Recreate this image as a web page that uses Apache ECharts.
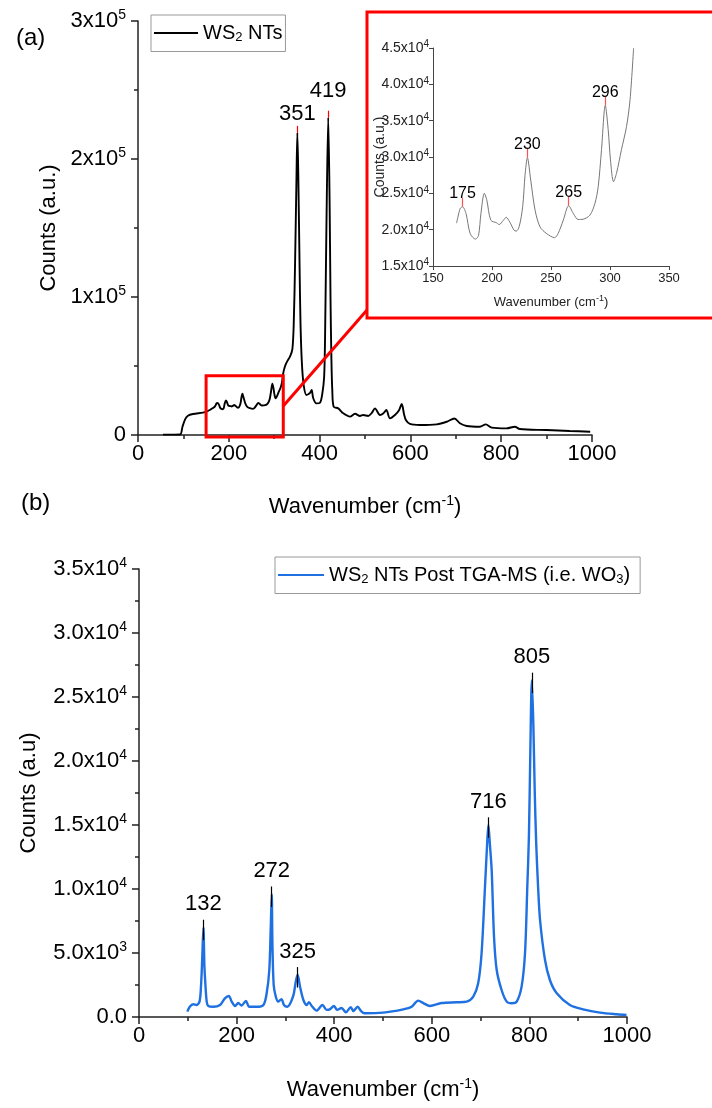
<!DOCTYPE html>
<html><head><meta charset="utf-8">
<script src="https://cdn.jsdelivr.net/npm/echarts/dist/echarts.min.js"></script>
<style>html,body{margin:0;padding:0;background:#fff}#c{width:712px;height:1108px}</style>
</head><body><div id="c"></div>
<script>
// ---- Data (a): WS2 NTs Raman spectrum ----
const topX = [55,80,93,98,104,110,121,143,151,160,165,170,173,175,178,181.5,186,188.6,190.6,193.5,195.6,199,204,206,209.7,212,215,218.7,220.4,223,226,228,230,232.8,236.5,240.7,246.3,253,256,260.4,265,269,273,277.3,283,287.2,290,292.8,296,298.5,300.4,303,305.5,309.7,314,317,320,324,328,335,340,343,346,349,351,353,356,358,361,365,371,375,379,382.5,386,393,401,406,410,412,415,419,422,424,426,428,431,441,452,467,478,489,496,507,515,522,533,540,547,555,566,575,581,586,590,599,621,658,680,697,709,724,753,766,779,812,830,841,900,951,996];
const topY = [300,300,400,6000,11500,14000,15200,16200,16900,18500,19500,20900,22900,23150,22200,19460,18700,19230,22200,25000,24070,21300,20940,20700,21300,21700,21070,19920,19790,20400,23150,27500,29900,26830,22690,20380,19460,18900,19460,21300,23300,22200,21400,21440,22000,23600,25900,31000,37100,33700,29600,26600,27750,31000,34200,37900,45000,50000,53000,57000,62000,80000,125000,185000,219000,190000,120000,80000,52000,36000,29000,29500,30500,32600,26600,22900,23400,30000,42000,70000,150000,230000,170000,100000,55000,32000,20500,19300,15700,13300,15400,13800,14500,13800,16000,19300,14500,15500,18100,12100,14500,18000,22500,15000,10900,8000,7200,7700,9600,12000,8500,6500,6000,7700,5300,4800,6000,4300,3600,2900,2400];
const topPeaksX = [351, 419];
const topPeaksY = [219000, 230000];
const insetRange = [170, 320];
const insetPeaksX = [175, 230, 265, 296];
const insetPeaksY = [23150, 29900, 23300, 37100];
const zoomBoxX = [150, 320];
const zoomBoxY = [-1500, 43000];
const connectorFrom = [320, 21000];

// ---- Data (b): WS2 NTs post TGA-MS (WO3) ----
const botX = [99,104,111,118,124,127,129.5,132,134,135.5,138.7,142,152,166,176,184,190,197,203.5,210,219,226,241,255,261.6,267,270,272,273.5,276,280,285,292,297,304,316,321,325,330,336.7,343.6,348.4,354,364,376,384.5,391,399.6,406,415,424,434,439,448,455,462,500,541.6,558.7,572,582.6,596,620,651,671.5,685,695,702,709,713.8,716,719,722.7,727.5,733,743,753.5,763.7,774,784,791,795.7,799,802,805,808,811,814,818,822,832,842,856,883,910,944.7,979,999];
const botY = [420,800,1000,940,1200,2370,4500,7000,4000,2900,1200,860,800,940,1460,1640,1200,860,1090,900,1250,800,800,940,1850,3670,7000,9600,5500,2500,1640,1200,1400,940,800,1640,2700,3300,2370,1350,940,1150,860,500,940,560,600,860,560,700,370,770,470,800,470,290,340,600,800,1280,1090,860,1090,1150,1200,1590,2630,4980,10180,13830,15000,13500,11480,6270,3670,2110,1200,1070,1200,2370,4980,10180,14090,21000,26300,23000,17500,13500,10000,7500,4450,2890,1850,940,600,340,210,160];
const botPeaksX = [132, 272, 325, 716, 805];
const botPeaksY = [7000, 9600, 3300, 15000, 26300];

// ---- Tick labels ----
const topYTicks = {min: 0, max: 300000, interval: 100000};
const insetXTicks = {min: 150, max: 350, interval: 50};
const insetYTicks = {min: 15000, max: 45000, interval: 5000};
const botYTicks = {min: 0, max: 35000, interval: 5000};
const xTicks = {min: 0, max: 1000, interval: 200};

const names = {
  a: 'WS2 NTs',
  b: 'WS2 NTs Post TGA-MS (i.e. WO3)'
};

const FONT = '"Liberation Sans", Arial, sans-serif';
const AX = '#222';
const topLabelLift = [8, 16];

function pairs(xs, ys) { return xs.map((x, i) => [x, ys[i]]); }
const topData = pairs(topX, topY);
const insetData = topData.filter(d => d[0] >= insetRange[0] && d[0] <= insetRange[1]);
const botData = pairs(botX, botY);

function richSci(fs, sfs, raise, color) {
  const c = color || '#000';
  return {
    m: {fontSize: fs, color: c, fontFamily: FONT},
    e: {fontSize: sfs, color: c, fontFamily: FONT, padding: [0, 0, raise, 0]},
    s: {fontSize: sfs, color: c, fontFamily: FONT, padding: [raise, 0, 0, 0]}
  };
}

function xAxisCfg(grid, ticks, fs, opt) {
  return Object.assign({
    type: 'value', gridIndex: grid, min: ticks.min, max: ticks.max, interval: ticks.interval,
    axisLine: {show: true, onZero: false, lineStyle: {color: AX, width: 1.5}},
    axisTick: {show: true, inside: false, length: 7, lineStyle: {color: AX, width: 1.5}},
    minorTick: {show: true, splitNumber: 2, length: 4, lineStyle: {color: AX, width: 1.5}},
    splitLine: {show: false}, minorSplitLine: {show: false},
    axisLabel: {fontSize: fs, color: '#000', fontFamily: FONT, margin: 8, formatter: v => String(v)},
    name: '{m|Wavenumber (cm}{e|-1}{m|)}', nameLocation: 'middle', nameGap: 59,
    nameTextStyle: {rich: richSci(22, 14, 12)}
  }, opt || {});
}

function yAxisCfg(grid, ticks, fmt, rich, opt) {
  return Object.assign({
    type: 'value', gridIndex: grid, min: ticks.min, max: ticks.max, interval: ticks.interval,
    axisLine: {show: true, onZero: false, lineStyle: {color: AX, width: 1.5}},
    axisTick: {show: true, inside: false, length: 7, lineStyle: {color: AX, width: 1.5}},
    minorTick: {show: true, splitNumber: 2, length: 4, lineStyle: {color: AX, width: 1.5}},
    splitLine: {show: false}, minorSplitLine: {show: false},
    axisLabel: {formatter: fmt, rich: rich, margin: 12},
    nameLocation: 'middle',
    nameTextStyle: {fontSize: 22, color: '#000', fontFamily: FONT}
  }, opt || {});
}

function peakTicks(xs, ys, below, above, color) {
  return {
    silent: true, symbol: ['none', 'none'], animation: false,
    label: {show: false},
    lineStyle: {color: color, width: 1.2, type: 'solid'},
    data: xs.map((x, i) => [{coord: [x, ys[i] - below]}, {coord: [x, ys[i] + above]}])
  };
}
function peakLabels(xs, ys, fs, dist, lifts) {
  return {
    silent: true, symbol: 'circle', symbolSize: 0.1, animation: false,
    itemStyle: {color: 'rgba(0,0,0,0)'},
    label: {show: true, position: 'top', distance: dist, fontSize: fs, color: '#000', fontFamily: FONT,
            formatter: p => String(p.data.value)},
    data: xs.map((x, i) => {
      const d = {coord: [x, ys[i]], value: x};
      if (lifts) d.label = {distance: lifts[i]};
      return d;
    })
  };
}

const chart = echarts.init(document.getElementById('c'), null, {renderer: 'canvas'});

const option = {
  animation: false,
  backgroundColor: '#fff',
  textStyle: {fontFamily: FONT},
  grid: [
    {left: 138, top: 21, width: 454, height: 414},
    {left: 433, top: 48, width: 236, height: 218},
    {left: 139, top: 569, width: 488, height: 448}
  ],
  legend: [
    {
      data: [names.a], left: 151, top: 15, borderColor: '#999', borderWidth: 1, borderRadius: 0,
      padding: [8, 3, 8, 3], itemWidth: 44, itemHeight: 2, icon: 'rect', itemGap: 5,
      formatter: () => '{m|WS}{s|2}{m| NTs}',
      textStyle: {rich: richSci(20, 13, 8)}
    },
    {
      data: [names.b], left: 275, top: 557, borderColor: '#999', borderWidth: 1, borderRadius: 0,
      padding: [8, 10, 8, 3], itemWidth: 46, itemHeight: 2, icon: 'rect', itemGap: 5,
      formatter: () => '{m|WS}{s|2}{m| NTs Post TGA-MS (i.e. WO}{s|3}{m|)}',
      textStyle: {rich: richSci(20, 13, 8)}
    }
  ],
  xAxis: [
    xAxisCfg(0, xTicks, 22),
    xAxisCfg(1, insetXTicks, 13, {
      axisLine: {show: true, onZero: false, lineStyle: {color: '#444', width: 1}},
      axisTick: {show: true, length: 4, lineStyle: {color: '#444', width: 1}},
      minorTick: {show: false},
      axisLabel: {fontSize: 13, color: '#222', fontFamily: FONT, margin: 6},
      nameGap: 28,
      nameTextStyle: {rich: richSci(13, 9, 7, '#222')}
    }),
    xAxisCfg(2, xTicks, 22, {nameGap: 60})
  ],
  yAxis: [
    yAxisCfg(0, topYTicks, v => v === 0 ? '{m|0}' : '{m|' + (v / 1e5) + 'x10}{e|5}', richSci(22, 14, 12), {
      name: 'Counts (a.u.)', nameGap: 67
    }),
    yAxisCfg(1, insetYTicks, v => '{m|' + (v / 1e4).toFixed(1) + 'x10}{e|4}', richSci(14, 10, 7, '#222'), {
      axisLine: {show: true, onZero: false, lineStyle: {color: '#444', width: 1}},
      axisTick: {show: true, length: 4, lineStyle: {color: '#444', width: 1}},
      minorTick: {show: false},
      axisLabel: {formatter: v => '{m|' + (v / 1e4).toFixed(1) + 'x10}{e|4}', rich: richSci(14, 10, 7, '#222'), margin: 4},
      name: 'Counts (a.u.)', nameGap: 46, nameMoveOverlap: false,
      nameTextStyle: {fontSize: 14, color: '#222', fontFamily: FONT}
    }),
    yAxisCfg(2, botYTicks, v => {
      if (v === 0) return '{m|0.0}';
      if (v < 1e4) return '{m|' + (v / 1e3).toFixed(1) + 'x10}{e|3}';
      return '{m|' + (v / 1e4).toFixed(1) + 'x10}{e|4}';
    }, richSci(22, 14, 12), {
      name: 'Counts (a.u)', nameGap: 99
    })
  ],
  series: [
    {
      name: names.a, type: 'line', xAxisIndex: 0, yAxisIndex: 0, data: topData,
      showSymbol: false, smooth: 0.3, color: '#000', lineStyle: {color: '#000', width: 1.9},
      markLine: peakTicks(topPeaksX, topPeaksY, 0, 5000, '#ff0000'),
      markPoint: peakLabels(topPeaksX, topPeaksY, 22, 10, topLabelLift)
    },
    {
      name: 'inset', type: 'line', xAxisIndex: 1, yAxisIndex: 1, data: insetData,
      showSymbol: false, smooth: 0.3, color: '#777', lineStyle: {color: '#777', width: 1},
      markLine: peakTicks(insetPeaksX, insetPeaksY, 0, 1200, '#ff5050'),
      markPoint: peakLabels(insetPeaksX, insetPeaksY, 16, 5)
    },
    {
      name: names.b, type: 'line', xAxisIndex: 2, yAxisIndex: 2, data: botData,
      showSymbol: false, smooth: 0.3, color: '#1f70e0', lineStyle: {color: '#1f70e0', width: 2.4},
      markLine: peakTicks(botPeaksX, botPeaksY, 1000, 600, '#000'),
      markPoint: peakLabels(botPeaksX, botPeaksY, 22, 12)
    }
  ]
};
chart.setOption(option);

// Annotations: panel letters, zoom box, inset frame and connector
const b0 = chart.convertToPixel({gridIndex: 0}, [zoomBoxX[0], zoomBoxY[1]]);
const b1 = chart.convertToPixel({gridIndex: 0}, [zoomBoxX[1], zoomBoxY[0]]);
const c0 = chart.convertToPixel({gridIndex: 0}, connectorFrom);
const insetFrame = {x: 367, y: 12, w: 360, h: 306};
chart.setOption({
  graphic: [
    {type: 'text', left: 16, top: 26, style: {text: '(a)', fontSize: 24, fill: '#000', fontFamily: FONT}},
    {type: 'text', left: 21, top: 491, style: {text: '(b)', fontSize: 24, fill: '#000', fontFamily: FONT}},
    {type: 'rect', z: 10, shape: {x: b0[0], y: b0[1], width: b1[0] - b0[0], height: b1[1] - b0[1]},
     style: {fill: 'none', stroke: '#ff0000', lineWidth: 3}},
    {type: 'rect', z: 10, shape: {x: insetFrame.x, y: insetFrame.y, width: insetFrame.w, height: insetFrame.h},
     style: {fill: 'none', stroke: '#ff0000', lineWidth: 3}},
    {type: 'line', z: 10, shape: {x1: c0[0], y1: c0[1], x2: insetFrame.x, y2: insetFrame.y + insetFrame.h - 8},
     style: {stroke: '#ff0000', lineWidth: 3}}
  ]
});
</script></body></html>
